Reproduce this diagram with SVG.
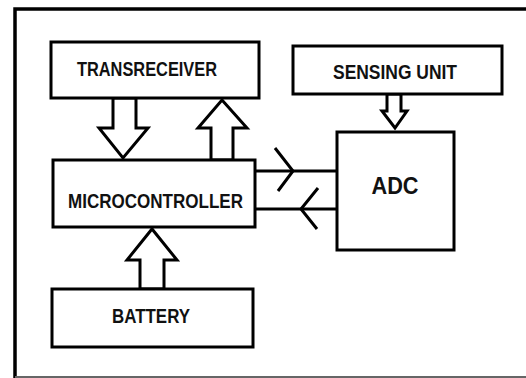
<svg xmlns="http://www.w3.org/2000/svg" width="526" height="378" viewBox="0 0 526 378">
<style>
.box{fill:#fff;stroke:#000;stroke-width:3}
.lbl{font-family:"Liberation Sans",Arial,sans-serif;font-weight:bold;font-size:20px;fill:#111;text-anchor:middle}
.arr{fill:#fff;stroke:#000;stroke-width:3;stroke-linejoin:miter}
.ln{fill:none;stroke:#000;stroke-width:3}
</style>
<rect width="526" height="378" fill="#fff"/>
<g id="frame">
<path d="M15,380 V9 H526" fill="none" stroke="#000" stroke-width="3.5"/>
<line x1="15" y1="377" x2="526" y2="377" stroke="#666" stroke-width="2"/>
</g>
<g id="connectors">
<polygon class="arr" points="113,98 136,98 136,128 148,128 123,158 99,128 113,128"/>
<polygon class="arr" points="211,160 233,160 233,128 247,128 222,100 198,128 211,128"/>
<polygon class="arr" points="140,289 164,289 164,260 177,260 152,229 127,260 140,260"/>
<polygon class="arr" points="387,94 401,94 401,111 407,111 395,128 382,111 387,111"/>
<line class="ln" x1="255" y1="171" x2="337" y2="171"/>
<polyline class="ln" points="275,148 293,171 278,191"/>
<line class="ln" x1="255" y1="209" x2="340" y2="209"/>
<polyline class="ln" points="318,188 301,209 317,229"/>
</g>
<g id="transreceiver">
<rect class="box" x="51" y="42" width="208" height="56"/>
<text class="lbl" x="147" y="76" textLength="140" lengthAdjust="spacingAndGlyphs">TRANSRECEIVER</text>
</g>
<g id="microcontroller">
<rect class="box" x="53" y="160" width="202" height="67"/>
<text class="lbl" x="155.5" y="208" textLength="175" lengthAdjust="spacingAndGlyphs">MICROCONTROLLER</text>
</g>
<g id="battery">
<rect class="box" x="52" y="289" width="201" height="58"/>
<text class="lbl" x="151" y="323" textLength="78" lengthAdjust="spacingAndGlyphs">BATTERY</text>
</g>
<g id="sensing">
<rect class="box" x="293" y="46" width="209" height="48"/>
<text class="lbl" x="395" y="79" textLength="124" lengthAdjust="spacingAndGlyphs">SENSING UNIT</text>
</g>
<g id="adc">
<rect class="box" x="337" y="132" width="117" height="118"/>
<text class="lbl" x="395" y="194" style="font-size:24px" textLength="47" lengthAdjust="spacingAndGlyphs">ADC</text>
</g>
</svg>
